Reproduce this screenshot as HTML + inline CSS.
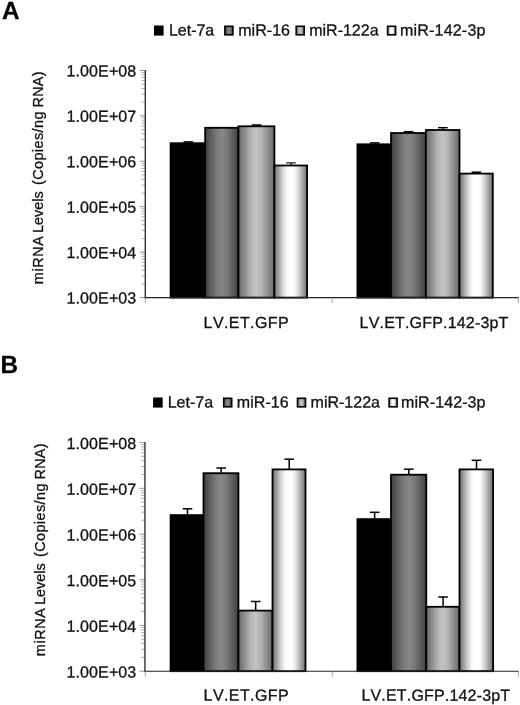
<!DOCTYPE html>
<html><head><meta charset="utf-8"><title>Figure</title>
<style>
html,body{margin:0;padding:0;background:#fff;}
body{width:520px;height:705px;overflow:hidden;}
svg{display:block;font-family:"Liberation Sans",sans-serif;fill:#111;font-kerning:none;}
text{stroke:#111;stroke-width:0.3px;}
</style></head><body>
<svg width="520" height="705" viewBox="0 0 520 705">
<defs>
<linearGradient id="g2" x1="0" x2="1" y1="0" y2="0"><stop offset="0.00" stop-color="#404040"/><stop offset="0.36" stop-color="#7c7c7c"/><stop offset="0.50" stop-color="#878787"/><stop offset="0.64" stop-color="#7c7c7c"/><stop offset="1.00" stop-color="#404040"/></linearGradient>
<linearGradient id="g3" x1="0" x2="1" y1="0" y2="0"><stop offset="0.00" stop-color="#686868"/><stop offset="0.36" stop-color="#b6b6b6"/><stop offset="0.50" stop-color="#c3c3c3"/><stop offset="0.64" stop-color="#b6b6b6"/><stop offset="1.00" stop-color="#686868"/></linearGradient>
<linearGradient id="g4" x1="0" x2="1" y1="0" y2="0"><stop offset="0.00" stop-color="#707070"/><stop offset="0.12" stop-color="#9e9e9e"/><stop offset="0.24" stop-color="#cfcfcf"/><stop offset="0.34" stop-color="#f0f0f0"/><stop offset="0.42" stop-color="#ffffff"/><stop offset="0.58" stop-color="#ffffff"/><stop offset="0.66" stop-color="#f0f0f0"/><stop offset="0.76" stop-color="#cfcfcf"/><stop offset="0.88" stop-color="#9e9e9e"/><stop offset="1.00" stop-color="#707070"/></linearGradient>
</defs>
<rect width="520" height="705" fill="#fff"/>

<text x="2.0" y="19.4" font-size="24.3" font-weight="bold" fill="#000" stroke="none">A</text>
<rect x="154.80" y="26.30" width="8.0" height="8.5" fill="#000" stroke="#000" stroke-width="1.6"/>
<text transform="translate(168.9,35.5) rotate(0.03)" font-size="16" letter-spacing="0">Let-7a</text>
<rect x="224.90" y="26.30" width="8.0" height="8.5" fill="url(#g2)" stroke="#000" stroke-width="1.6"/>
<text transform="translate(238.2,35.5) rotate(0.03)" font-size="16" letter-spacing="0.05">miR-16</text>
<rect x="296.20" y="26.30" width="8.0" height="8.5" fill="url(#g3)" stroke="#000" stroke-width="1.6"/>
<text transform="translate(309.2,35.5) rotate(0.03)" font-size="16" letter-spacing="0">miR-122a</text>
<rect x="387.60" y="26.30" width="8.0" height="8.5" fill="url(#g4)" stroke="#000" stroke-width="1.6"/>
<text transform="translate(400.0,35.5) rotate(0.03)" font-size="16" letter-spacing="0.2">miR-142-3p</text>
<line x1="139.70000000000002" y1="70.40" x2="145.3" y2="70.40" stroke="#8a8a8a" stroke-width="0.9"/>
<text transform="translate(136.4,76.40) rotate(0.03)" font-size="16" text-anchor="end" letter-spacing="0.12">1.00E+08</text>
<line x1="141.5" y1="102.16" x2="145.3" y2="102.16" stroke="#999" stroke-width="0.8"/>
<line x1="141.5" y1="94.16" x2="145.3" y2="94.16" stroke="#999" stroke-width="0.8"/>
<line x1="141.5" y1="88.48" x2="145.3" y2="88.48" stroke="#999" stroke-width="0.8"/>
<line x1="141.5" y1="84.08" x2="145.3" y2="84.08" stroke="#999" stroke-width="0.8"/>
<line x1="141.5" y1="80.48" x2="145.3" y2="80.48" stroke="#999" stroke-width="0.8"/>
<line x1="141.5" y1="77.44" x2="145.3" y2="77.44" stroke="#999" stroke-width="0.8"/>
<line x1="141.5" y1="74.80" x2="145.3" y2="74.80" stroke="#999" stroke-width="0.8"/>
<line x1="141.5" y1="72.48" x2="145.3" y2="72.48" stroke="#999" stroke-width="0.8"/>
<line x1="139.70000000000002" y1="115.84" x2="145.3" y2="115.84" stroke="#8a8a8a" stroke-width="0.9"/>
<text transform="translate(136.4,121.84) rotate(0.03)" font-size="16" text-anchor="end" letter-spacing="0.12">1.00E+07</text>
<line x1="141.5" y1="147.60" x2="145.3" y2="147.60" stroke="#999" stroke-width="0.8"/>
<line x1="141.5" y1="139.60" x2="145.3" y2="139.60" stroke="#999" stroke-width="0.8"/>
<line x1="141.5" y1="133.92" x2="145.3" y2="133.92" stroke="#999" stroke-width="0.8"/>
<line x1="141.5" y1="129.52" x2="145.3" y2="129.52" stroke="#999" stroke-width="0.8"/>
<line x1="141.5" y1="125.92" x2="145.3" y2="125.92" stroke="#999" stroke-width="0.8"/>
<line x1="141.5" y1="122.88" x2="145.3" y2="122.88" stroke="#999" stroke-width="0.8"/>
<line x1="141.5" y1="120.24" x2="145.3" y2="120.24" stroke="#999" stroke-width="0.8"/>
<line x1="141.5" y1="117.92" x2="145.3" y2="117.92" stroke="#999" stroke-width="0.8"/>
<line x1="139.70000000000002" y1="161.28" x2="145.3" y2="161.28" stroke="#8a8a8a" stroke-width="0.9"/>
<text transform="translate(136.4,167.28) rotate(0.03)" font-size="16" text-anchor="end" letter-spacing="0.12">1.00E+06</text>
<line x1="141.5" y1="193.04" x2="145.3" y2="193.04" stroke="#999" stroke-width="0.8"/>
<line x1="141.5" y1="185.04" x2="145.3" y2="185.04" stroke="#999" stroke-width="0.8"/>
<line x1="141.5" y1="179.36" x2="145.3" y2="179.36" stroke="#999" stroke-width="0.8"/>
<line x1="141.5" y1="174.96" x2="145.3" y2="174.96" stroke="#999" stroke-width="0.8"/>
<line x1="141.5" y1="171.36" x2="145.3" y2="171.36" stroke="#999" stroke-width="0.8"/>
<line x1="141.5" y1="168.32" x2="145.3" y2="168.32" stroke="#999" stroke-width="0.8"/>
<line x1="141.5" y1="165.68" x2="145.3" y2="165.68" stroke="#999" stroke-width="0.8"/>
<line x1="141.5" y1="163.36" x2="145.3" y2="163.36" stroke="#999" stroke-width="0.8"/>
<line x1="139.70000000000002" y1="206.72" x2="145.3" y2="206.72" stroke="#8a8a8a" stroke-width="0.9"/>
<text transform="translate(136.4,212.72) rotate(0.03)" font-size="16" text-anchor="end" letter-spacing="0.12">1.00E+05</text>
<line x1="141.5" y1="238.48" x2="145.3" y2="238.48" stroke="#999" stroke-width="0.8"/>
<line x1="141.5" y1="230.48" x2="145.3" y2="230.48" stroke="#999" stroke-width="0.8"/>
<line x1="141.5" y1="224.80" x2="145.3" y2="224.80" stroke="#999" stroke-width="0.8"/>
<line x1="141.5" y1="220.40" x2="145.3" y2="220.40" stroke="#999" stroke-width="0.8"/>
<line x1="141.5" y1="216.80" x2="145.3" y2="216.80" stroke="#999" stroke-width="0.8"/>
<line x1="141.5" y1="213.76" x2="145.3" y2="213.76" stroke="#999" stroke-width="0.8"/>
<line x1="141.5" y1="211.12" x2="145.3" y2="211.12" stroke="#999" stroke-width="0.8"/>
<line x1="141.5" y1="208.80" x2="145.3" y2="208.80" stroke="#999" stroke-width="0.8"/>
<line x1="139.70000000000002" y1="252.16" x2="145.3" y2="252.16" stroke="#8a8a8a" stroke-width="0.9"/>
<text transform="translate(136.4,258.16) rotate(0.03)" font-size="16" text-anchor="end" letter-spacing="0.12">1.00E+04</text>
<line x1="141.5" y1="283.92" x2="145.3" y2="283.92" stroke="#999" stroke-width="0.8"/>
<line x1="141.5" y1="275.92" x2="145.3" y2="275.92" stroke="#999" stroke-width="0.8"/>
<line x1="141.5" y1="270.24" x2="145.3" y2="270.24" stroke="#999" stroke-width="0.8"/>
<line x1="141.5" y1="265.84" x2="145.3" y2="265.84" stroke="#999" stroke-width="0.8"/>
<line x1="141.5" y1="262.24" x2="145.3" y2="262.24" stroke="#999" stroke-width="0.8"/>
<line x1="141.5" y1="259.20" x2="145.3" y2="259.20" stroke="#999" stroke-width="0.8"/>
<line x1="141.5" y1="256.56" x2="145.3" y2="256.56" stroke="#999" stroke-width="0.8"/>
<line x1="141.5" y1="254.24" x2="145.3" y2="254.24" stroke="#999" stroke-width="0.8"/>
<line x1="139.70000000000002" y1="297.60" x2="145.3" y2="297.60" stroke="#8a8a8a" stroke-width="0.9"/>
<text transform="translate(136.4,303.60) rotate(0.03)" font-size="16" text-anchor="end" letter-spacing="0.12">1.00E+03</text>
<rect x="169.70" y="142.30" width="35.45" height="156.20" fill="#000"/>
<line x1="188.33" y1="141.90" x2="188.33" y2="142.80" stroke="#000" stroke-width="1.5"/>
<line x1="183.53" y1="141.90" x2="193.13" y2="141.90" stroke="#000" stroke-width="1.5"/>
<rect x="205.15" y="127.80" width="33.30" height="169.80" fill="url(#g2)" stroke="#000" stroke-width="1.8"/>
<rect x="238.45" y="126.30" width="35.95" height="171.30" fill="url(#g3)" stroke="#000" stroke-width="1.8"/>
<line x1="256.62" y1="125.00" x2="256.62" y2="125.90" stroke="#000" stroke-width="1.5"/>
<line x1="251.82" y1="125.00" x2="261.42" y2="125.00" stroke="#000" stroke-width="1.5"/>
<rect x="274.40" y="165.50" width="32.70" height="132.10" fill="url(#g4)" stroke="#000" stroke-width="1.8"/>
<line x1="290.95" y1="162.90" x2="290.95" y2="165.10" stroke="#000" stroke-width="1.1"/>
<line x1="286.15" y1="162.90" x2="295.75" y2="162.90" stroke="#000" stroke-width="1.1"/>
<rect x="356.50" y="143.40" width="34.50" height="155.10" fill="#000"/>
<line x1="374.65" y1="142.90" x2="374.65" y2="143.90" stroke="#000" stroke-width="1.5"/>
<line x1="369.85" y1="142.90" x2="379.45" y2="142.90" stroke="#000" stroke-width="1.5"/>
<rect x="391.00" y="133.00" width="34.85" height="164.60" fill="url(#g2)" stroke="#000" stroke-width="1.8"/>
<line x1="408.62" y1="131.70" x2="408.62" y2="132.60" stroke="#000" stroke-width="1.5"/>
<line x1="403.82" y1="131.70" x2="413.43" y2="131.70" stroke="#000" stroke-width="1.5"/>
<rect x="425.85" y="130.00" width="33.65" height="167.60" fill="url(#g3)" stroke="#000" stroke-width="1.8"/>
<line x1="442.88" y1="127.70" x2="442.88" y2="129.60" stroke="#000" stroke-width="1.4"/>
<line x1="438.07" y1="127.70" x2="447.68" y2="127.70" stroke="#000" stroke-width="1.4"/>
<rect x="459.50" y="173.60" width="33.30" height="124.00" fill="url(#g4)" stroke="#000" stroke-width="1.8"/>
<line x1="476.35" y1="172.20" x2="476.35" y2="173.20" stroke="#000" stroke-width="1.5"/>
<line x1="471.55" y1="172.20" x2="481.15" y2="172.20" stroke="#000" stroke-width="1.5"/>
<line x1="145.3" y1="69.9" x2="145.3" y2="298.20000000000005" stroke="#333" stroke-width="1.4"/>
<line x1="144.60000000000002" y1="297.6" x2="518.8" y2="297.6" stroke="#222" stroke-width="1.15"/>
<line x1="145.2" y1="297.6" x2="145.2" y2="303.1" stroke="#999" stroke-width="0.85"/>
<line x1="332.2" y1="297.6" x2="332.2" y2="303.1" stroke="#999" stroke-width="0.85"/>
<line x1="518.4" y1="297.6" x2="518.4" y2="303.1" stroke="#999" stroke-width="0.85"/>
<text transform="translate(203.6,328) rotate(0.03)" font-size="16" letter-spacing="0.4">LV.ET.GFP</text>
<text transform="translate(359.6,328) rotate(0.03)" font-size="16" letter-spacing="0.18">LV.ET.GFP.142-3pT</text>
<g font-size="14.4">
<text transform="translate(43.3,284.20) rotate(-90)" letter-spacing="0.6">miRNA</text>
<text transform="translate(43.3,233.00) rotate(-90)" letter-spacing="0.0">Levels</text>
<text transform="translate(43.3,185.10) rotate(-90)" letter-spacing="0.44">(Copies/ng</text>
<text transform="translate(43.3,107.50) rotate(-90)" letter-spacing="0.27">RNA)</text>
</g>
<text x="0.5" y="373.2" font-size="24.3" font-weight="bold" fill="#000" stroke="none">B</text>
<rect x="153.90" y="398.30" width="8.0" height="8.5" fill="#000" stroke="#000" stroke-width="1.6"/>
<text transform="translate(167.7,407.5) rotate(0.03)" font-size="16" letter-spacing="0">Let-7a</text>
<rect x="223.70" y="398.30" width="8.0" height="8.5" fill="url(#g2)" stroke="#000" stroke-width="1.6"/>
<text transform="translate(236.8,407.5) rotate(0.03)" font-size="16" letter-spacing="0.05">miR-16</text>
<rect x="297.50" y="398.30" width="8.0" height="8.5" fill="url(#g3)" stroke="#000" stroke-width="1.6"/>
<text transform="translate(310.6,407.5) rotate(0.03)" font-size="16" letter-spacing="0">miR-122a</text>
<rect x="389.10" y="398.30" width="8.0" height="8.5" fill="url(#g4)" stroke="#000" stroke-width="1.6"/>
<text transform="translate(401.0,407.5) rotate(0.03)" font-size="16" letter-spacing="0.1">miR-142-3p</text>
<line x1="139.35" y1="442.60" x2="144.95" y2="442.60" stroke="#8a8a8a" stroke-width="0.9"/>
<text transform="translate(136.4,449.00) rotate(0.03)" font-size="16" text-anchor="end" letter-spacing="0.12">1.00E+08</text>
<line x1="141.14999999999998" y1="474.56" x2="144.95" y2="474.56" stroke="#999" stroke-width="0.8"/>
<line x1="141.14999999999998" y1="466.51" x2="144.95" y2="466.51" stroke="#999" stroke-width="0.8"/>
<line x1="141.14999999999998" y1="460.79" x2="144.95" y2="460.79" stroke="#999" stroke-width="0.8"/>
<line x1="141.14999999999998" y1="456.36" x2="144.95" y2="456.36" stroke="#999" stroke-width="0.8"/>
<line x1="141.14999999999998" y1="452.74" x2="144.95" y2="452.74" stroke="#999" stroke-width="0.8"/>
<line x1="141.14999999999998" y1="449.68" x2="144.95" y2="449.68" stroke="#999" stroke-width="0.8"/>
<line x1="141.14999999999998" y1="447.03" x2="144.95" y2="447.03" stroke="#999" stroke-width="0.8"/>
<line x1="141.14999999999998" y1="444.69" x2="144.95" y2="444.69" stroke="#999" stroke-width="0.8"/>
<line x1="139.35" y1="488.32" x2="144.95" y2="488.32" stroke="#8a8a8a" stroke-width="0.9"/>
<text transform="translate(136.4,494.72) rotate(0.03)" font-size="16" text-anchor="end" letter-spacing="0.12">1.00E+07</text>
<line x1="141.14999999999998" y1="520.28" x2="144.95" y2="520.28" stroke="#999" stroke-width="0.8"/>
<line x1="141.14999999999998" y1="512.23" x2="144.95" y2="512.23" stroke="#999" stroke-width="0.8"/>
<line x1="141.14999999999998" y1="506.51" x2="144.95" y2="506.51" stroke="#999" stroke-width="0.8"/>
<line x1="141.14999999999998" y1="502.08" x2="144.95" y2="502.08" stroke="#999" stroke-width="0.8"/>
<line x1="141.14999999999998" y1="498.46" x2="144.95" y2="498.46" stroke="#999" stroke-width="0.8"/>
<line x1="141.14999999999998" y1="495.40" x2="144.95" y2="495.40" stroke="#999" stroke-width="0.8"/>
<line x1="141.14999999999998" y1="492.75" x2="144.95" y2="492.75" stroke="#999" stroke-width="0.8"/>
<line x1="141.14999999999998" y1="490.41" x2="144.95" y2="490.41" stroke="#999" stroke-width="0.8"/>
<line x1="139.35" y1="534.04" x2="144.95" y2="534.04" stroke="#8a8a8a" stroke-width="0.9"/>
<text transform="translate(136.4,540.44) rotate(0.03)" font-size="16" text-anchor="end" letter-spacing="0.12">1.00E+06</text>
<line x1="141.14999999999998" y1="566.00" x2="144.95" y2="566.00" stroke="#999" stroke-width="0.8"/>
<line x1="141.14999999999998" y1="557.95" x2="144.95" y2="557.95" stroke="#999" stroke-width="0.8"/>
<line x1="141.14999999999998" y1="552.23" x2="144.95" y2="552.23" stroke="#999" stroke-width="0.8"/>
<line x1="141.14999999999998" y1="547.80" x2="144.95" y2="547.80" stroke="#999" stroke-width="0.8"/>
<line x1="141.14999999999998" y1="544.18" x2="144.95" y2="544.18" stroke="#999" stroke-width="0.8"/>
<line x1="141.14999999999998" y1="541.12" x2="144.95" y2="541.12" stroke="#999" stroke-width="0.8"/>
<line x1="141.14999999999998" y1="538.47" x2="144.95" y2="538.47" stroke="#999" stroke-width="0.8"/>
<line x1="141.14999999999998" y1="536.13" x2="144.95" y2="536.13" stroke="#999" stroke-width="0.8"/>
<line x1="139.35" y1="579.76" x2="144.95" y2="579.76" stroke="#8a8a8a" stroke-width="0.9"/>
<text transform="translate(136.4,586.16) rotate(0.03)" font-size="16" text-anchor="end" letter-spacing="0.12">1.00E+05</text>
<line x1="141.14999999999998" y1="611.72" x2="144.95" y2="611.72" stroke="#999" stroke-width="0.8"/>
<line x1="141.14999999999998" y1="603.67" x2="144.95" y2="603.67" stroke="#999" stroke-width="0.8"/>
<line x1="141.14999999999998" y1="597.95" x2="144.95" y2="597.95" stroke="#999" stroke-width="0.8"/>
<line x1="141.14999999999998" y1="593.52" x2="144.95" y2="593.52" stroke="#999" stroke-width="0.8"/>
<line x1="141.14999999999998" y1="589.90" x2="144.95" y2="589.90" stroke="#999" stroke-width="0.8"/>
<line x1="141.14999999999998" y1="586.84" x2="144.95" y2="586.84" stroke="#999" stroke-width="0.8"/>
<line x1="141.14999999999998" y1="584.19" x2="144.95" y2="584.19" stroke="#999" stroke-width="0.8"/>
<line x1="141.14999999999998" y1="581.85" x2="144.95" y2="581.85" stroke="#999" stroke-width="0.8"/>
<line x1="139.35" y1="625.48" x2="144.95" y2="625.48" stroke="#8a8a8a" stroke-width="0.9"/>
<text transform="translate(136.4,631.88) rotate(0.03)" font-size="16" text-anchor="end" letter-spacing="0.12">1.00E+04</text>
<line x1="141.14999999999998" y1="657.44" x2="144.95" y2="657.44" stroke="#999" stroke-width="0.8"/>
<line x1="141.14999999999998" y1="649.39" x2="144.95" y2="649.39" stroke="#999" stroke-width="0.8"/>
<line x1="141.14999999999998" y1="643.67" x2="144.95" y2="643.67" stroke="#999" stroke-width="0.8"/>
<line x1="141.14999999999998" y1="639.24" x2="144.95" y2="639.24" stroke="#999" stroke-width="0.8"/>
<line x1="141.14999999999998" y1="635.62" x2="144.95" y2="635.62" stroke="#999" stroke-width="0.8"/>
<line x1="141.14999999999998" y1="632.56" x2="144.95" y2="632.56" stroke="#999" stroke-width="0.8"/>
<line x1="141.14999999999998" y1="629.91" x2="144.95" y2="629.91" stroke="#999" stroke-width="0.8"/>
<line x1="141.14999999999998" y1="627.57" x2="144.95" y2="627.57" stroke="#999" stroke-width="0.8"/>
<line x1="139.35" y1="671.20" x2="144.95" y2="671.20" stroke="#8a8a8a" stroke-width="0.9"/>
<text transform="translate(136.4,677.60) rotate(0.03)" font-size="16" text-anchor="end" letter-spacing="0.12">1.00E+03</text>
<rect x="169.70" y="514.20" width="33.80" height="157.90" fill="#000"/>
<line x1="187.50" y1="508.80" x2="187.50" y2="514.70" stroke="#000" stroke-width="1.5"/>
<line x1="182.70" y1="508.80" x2="192.30" y2="508.80" stroke="#000" stroke-width="1.5"/>
<rect x="203.50" y="473.20" width="34.95" height="198.00" fill="url(#g2)" stroke="#000" stroke-width="1.8"/>
<line x1="221.17" y1="468.00" x2="221.17" y2="472.80" stroke="#000" stroke-width="1.5"/>
<line x1="216.37" y1="468.00" x2="225.97" y2="468.00" stroke="#000" stroke-width="1.5"/>
<rect x="238.45" y="610.60" width="34.05" height="60.60" fill="url(#g3)" stroke="#000" stroke-width="1.8"/>
<line x1="255.67" y1="601.50" x2="255.67" y2="610.20" stroke="#000" stroke-width="1.5"/>
<line x1="250.87" y1="601.50" x2="260.47" y2="601.50" stroke="#000" stroke-width="1.5"/>
<rect x="272.50" y="469.40" width="33.00" height="201.80" fill="url(#g4)" stroke="#000" stroke-width="1.8"/>
<line x1="289.20" y1="459.20" x2="289.20" y2="469.00" stroke="#000" stroke-width="1.5"/>
<line x1="284.40" y1="459.20" x2="294.00" y2="459.20" stroke="#000" stroke-width="1.5"/>
<rect x="356.50" y="518.20" width="34.50" height="153.90" fill="#000"/>
<line x1="374.65" y1="512.30" x2="374.65" y2="518.70" stroke="#000" stroke-width="1.5"/>
<line x1="369.85" y1="512.30" x2="379.45" y2="512.30" stroke="#000" stroke-width="1.5"/>
<rect x="391.00" y="474.70" width="35.30" height="196.50" fill="url(#g2)" stroke="#000" stroke-width="1.8"/>
<line x1="408.85" y1="469.20" x2="408.85" y2="474.30" stroke="#000" stroke-width="1.5"/>
<line x1="404.05" y1="469.20" x2="413.65" y2="469.20" stroke="#000" stroke-width="1.5"/>
<rect x="426.30" y="606.80" width="33.20" height="64.40" fill="url(#g3)" stroke="#000" stroke-width="1.8"/>
<line x1="443.10" y1="597.00" x2="443.10" y2="606.40" stroke="#000" stroke-width="1.5"/>
<line x1="438.30" y1="597.00" x2="447.90" y2="597.00" stroke="#000" stroke-width="1.5"/>
<rect x="459.50" y="469.40" width="33.60" height="201.80" fill="url(#g4)" stroke="#000" stroke-width="1.8"/>
<line x1="476.50" y1="460.30" x2="476.50" y2="469.00" stroke="#000" stroke-width="1.5"/>
<line x1="471.70" y1="460.30" x2="481.30" y2="460.30" stroke="#000" stroke-width="1.5"/>
<line x1="144.95" y1="442.1" x2="144.95" y2="671.8000000000001" stroke="#333" stroke-width="1.4"/>
<line x1="144.25" y1="671.2" x2="518.8" y2="671.2" stroke="#222" stroke-width="1.15"/>
<line x1="145.2" y1="671.2" x2="145.2" y2="676.7" stroke="#999" stroke-width="0.85"/>
<line x1="332.2" y1="671.2" x2="332.2" y2="676.7" stroke="#999" stroke-width="0.85"/>
<line x1="518.4" y1="671.2" x2="518.4" y2="676.7" stroke="#999" stroke-width="0.85"/>
<text transform="translate(203.6,700.6) rotate(0.03)" font-size="16" letter-spacing="0.4">LV.ET.GFP</text>
<text transform="translate(361.4,700.6) rotate(0.03)" font-size="16" letter-spacing="0.18">LV.ET.GFP.142-3pT</text>
<g font-size="14.4">
<text transform="translate(45.4,656.20) rotate(-90)" letter-spacing="0.6">miRNA</text>
<text transform="translate(45.4,605.00) rotate(-90)" letter-spacing="0.0">Levels</text>
<text transform="translate(45.4,557.10) rotate(-90)" letter-spacing="0.44">(Copies/ng</text>
<text transform="translate(45.4,479.50) rotate(-90)" letter-spacing="0.27">RNA)</text>
</g>
</svg></body></html>
